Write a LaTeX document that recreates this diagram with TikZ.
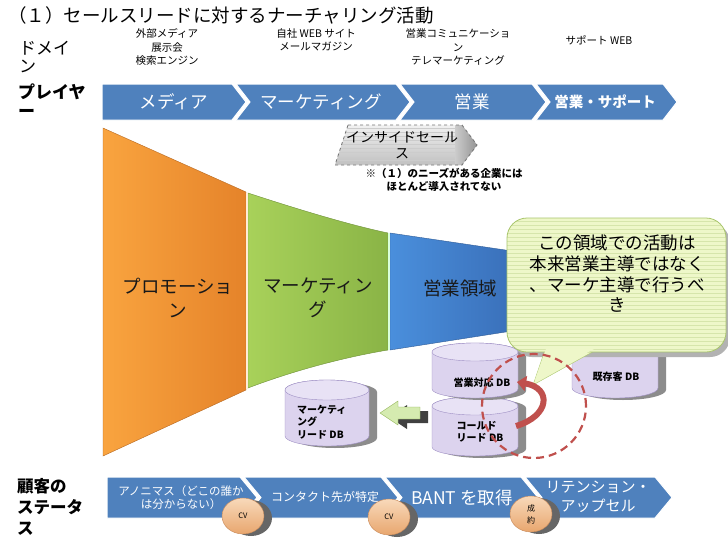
\documentclass[tikz,border=0pt]{standalone}
\usepackage{fontspec}
\setmainfont{Noto Sans CJK JP}
\usetikzlibrary{arrows.meta,shapes.geometric}
\definecolor{chev}{HTML}{4F81BD}
\definecolor{orgL}{HTML}{F9A43F}
\definecolor{orgR}{HTML}{E5832A}
\definecolor{grnL}{HTML}{A8D15A}
\definecolor{grnR}{HTML}{8AB446}
\definecolor{bluL}{HTML}{4A8FDC}
\definecolor{bluR}{HTML}{3A70BA}
\definecolor{callfill}{HTML}{EEF7C9}
\definecolor{callline}{HTML}{D6E5AB}
\definecolor{callborder}{HTML}{A9C66C}
\definecolor{dbbody}{HTML}{DCD3EE}
\definecolor{dbtop}{HTML}{E8E2F5}
\definecolor{dbline}{HTML}{9E8FC4}
\definecolor{dbshadow}{HTML}{8C8C8C}
\definecolor{redarr}{HTML}{C0504D}
\definecolor{cvtop}{HTML}{F8D9BA}
\definecolor{cvbot}{HTML}{E8A66E}
\definecolor{cvline}{HTML}{C88A5A}
\definecolor{arrgreen}{HTML}{D5EBB0}
\definecolor{arrgreenb}{HTML}{8DB050}
\newcommand\fs[2]{\fontsize{#1}{#2}\selectfont}
\newcommand\dbcyl[5]{% cx rx ytop ybot ry
  \fill[dbshadow] (#1-#2+8,#3+#5+2) -- (#1-#2+8,#4-#5+2)
     arc[start angle=180,end angle=360,x radius=#2pt,y radius=#5pt]
     -- (#1+#2+8,#3+#5+2)
     arc[start angle=0,end angle=180,x radius=#2pt,y radius=#5pt] -- cycle;
  \draw[dbline,fill=dbbody] (#1-#2,#3+#5) -- (#1-#2,#4-#5)
     arc[start angle=180,end angle=360,x radius=#2pt,y radius=#5pt]
     -- (#1+#2,#3+#5)
     arc[start angle=0,end angle=180,x radius=#2pt,y radius=#5pt] -- cycle;
  \draw[dbline,fill=dbtop] (#1,#3+#5) ellipse[x radius=#2pt,y radius=#5pt];
}
\tikzset{
  txt/.style={inner sep=0pt,align=center},
  chevron/.style={fill=chev,draw=white,line width=1pt},
  cvbubble/.style={ellipse,draw=cvline,top color=cvtop,bottom color=cvbot,
     minimum width=42pt,minimum height=36pt,inner sep=0pt,align=center,font=\fs{7.5}{9}},
}
\begin{document}
\begin{tikzpicture}[x=1pt,y=-1pt]
\useasboundingbox[fill=white] (0,0) rectangle (728,546);

% title and left labels
\node[txt,anchor=west,font=\fs{18.5}{22}] (title) at (8,15) {（１）セールスリードに対するナーチャリング活動};
\node[txt,anchor=north west,align=left,font=\fs{17}{18}] (domain) at (19,41) {ドメイ\\ン};
\node[txt,anchor=north west,align=left,font=\fs{17}{19}\bfseries] (player) at (18,84) {プレイヤ\\ー};
\node[txt,anchor=north west,align=left,font=\fs{16.5}{21}\bfseries] (status) at (17,478) {顧客の\\ステータ\\ス};

% domain labels
\node[txt,font=\fs{10.5}{13.5}] (dom1) at (167,47) {外部メディア\\展示会\\検索エンジン};
\node[txt,font=\fs{10.5}{13.5}] (dom2) at (316,40) {自社 WEB サイト\\メールマガジン};
\node[txt,font=\fs{10.5}{13.5}] (dom3) at (458,47) {営業コミュニケーショ\\ン\\テレマーケティング};
\node[txt,font=\fs{10.5}{13.5}] (dom4) at (599,40) {サポート WEB};

% top chevrons
\path[chevron] (102,84) -- (232,84) -- (246,102) -- (232,120) -- (102,120) -- cycle;
\path[chevron] (236,84) -- (396,84) -- (410,102) -- (396,120) -- (236,120) -- (250,102) -- cycle;
\path[chevron] (400,84) -- (532,84) -- (546,102) -- (532,120) -- (400,120) -- (414,102) -- cycle;
\path[chevron] (536,84) -- (663,84) -- (677,102) -- (663,120) -- (536,120) -- (550,102) -- cycle;
\node[txt,text=white,font=\fs{17.5}{20}] (c1t) at (174,102) {メディア};
\node[txt,text=white,font=\fs{17.5}{20}] (c2t) at (321,102) {マーケティング};
\node[txt,text=white,font=\fs{17.5}{20}] (c3t) at (472,102) {営業};
\node[txt,text=white,font=\fs{14.5}{17}\bfseries] (c4t) at (605,102) {営業・サポート};

% funnel
\shade[left color=orgL,right color=orgR,draw=orgR!80!black,line width=0.4pt]
  (103,128) -- (246,192) -- (246,390) -- (103,456) -- cycle;
\shade[left color=grnL,right color=grnR,draw=grnR!80!black,line width=0.4pt]
  (248,193) .. controls (300,210) and (350,225) .. (388,233) -- (388,350)
  .. controls (340,358) and (290,372) .. (248,388) -- cycle;
\shade[left color=bluL,right color=bluR,draw=bluR!80!black,line width=0.4pt]
  (390,233) -- (512,251) -- (512,331) -- (390,350) -- cycle;
\draw[white!85!orange,line width=1.2pt] (247,193) -- (247,389);
\draw[white!85!green,line width=1.2pt] (389,233) -- (389,350);
\node[txt,font=\fs{18.5}{24},text=black!90] (f1t) at (178,298) {プロモーショ\\ン};
\node[txt,font=\fs{18.5}{24},text=black!90] (f2t) at (318,298) {マーケティン\\グ};
\node[txt,font=\fs{18.5}{24},text=black!90] (f3t) at (460,288) {営業領域};

% inside sales
\begin{scope}
  \clip (348,125) -- (462,125) -- (477,145) -- (462,165) -- (335,165) -- cycle;
  \shade[top color=white!95!black,bottom color=black!25] (330,124) rectangle (480,166);
  \foreach \yy in {128,132,...,164} \draw[black!20,line width=0.8pt] (330,\yy) -- (480,\yy);
  \shade[left color=black!20,right color=black!45] (455,124) rectangle (480,166);
\end{scope}
\draw[black!55,dashed,line width=0.8pt] (348,125) -- (462,125) -- (477,145) -- (462,165) -- (335,165) -- cycle;
\node[txt,font=\fs{14}{16}] (is) at (402,145) {インサイドセール\\ス};
\node[txt,font=\fs{10.5}{12.5}\bfseries] (note) at (444,180) {※（１）のニーズがある企業には\\ほとんど導入されてない};

% databases
\dbcyl{615}{43}{335}{398}{10}
\node[txt,font=\fs{10}{12}\bfseries] (db4) at (616,377) {既存客 DB};
\dbcyl{327}{42}{380}{446}{10}
\node[txt,anchor=north west,align=left,font=\fs{10}{12.5}\bfseries] (db3) at (297,405) {マーケティ\\ング\\リード DB};
\dbcyl{475}{43}{397}{456}{9}
\node[txt,align=left,font=\fs{10}{12}\bfseries] (db2) at (480,432) {コールド\\リード DB};
\dbcyl{475}{43}{343}{398}{9}
\node[txt,font=\fs{10}{12}\bfseries] (db1) at (482,383) {営業対応 DB};

% green block arrow (cold lead -> marketing lead)
\fill[black!75] (389,417) -- (407,405) -- (407,411) -- (428,411) -- (428,423) -- (407,423) -- (407,429) -- cycle;
\draw[arrgreenb,fill=arrgreen] (380,413) -- (398,401) -- (398,407) -- (420,407) -- (420,419) -- (398,419) -- (398,425) -- cycle;

% callout
\fill[black!30] (512,223) [rounded corners=20pt] rectangle (730,357);
\draw[callborder,fill=callfill] (545,350) -- (533,385) -- (596,350);
\begin{scope}
  \clip[rounded corners=20pt] (507,218) rectangle (726,352);
  \fill[callfill] (507,218) rectangle (726,352);
  \foreach \yy in {221,225,...,352} \draw[callline,line width=0.7pt] (507,\yy) -- (726,\yy);
\end{scope}
\draw[callborder,line width=0.8pt,rounded corners=20pt] (507,218) rectangle (726,352);
\fill[callfill] (546,349) -- (535,380) -- (594,349) -- cycle;
\node[txt,font=\fs{17.5}{20.7}] (co) at (617,274) {この領域での活動は\\本来営業主導ではなく\\、マーケ主導で行うべ\\き};

% red curved arrow and dashed circle
\coordinate (coldR) at (516,426);
\coordinate (eigyoR) at (517,382);
\draw[redarr,line width=6pt,-{Triangle[length=9pt,width=15pt]}]
  (coldR) .. controls (550,416) and (552,388) .. (eigyoR);
\coordinate (circC) at (534,406);
\draw[redarr,dashed,line width=2.2pt,dash pattern=on 8pt off 5pt] (circC) circle[radius=52pt];

% bottom chevrons
\path[chevron] (107,477) -- (240,477) -- (257,497.5) -- (240,518) -- (107,518) -- cycle;
\path[chevron] (244,477) -- (381,477) -- (398,497.5) -- (381,518) -- (244,518) -- (261,497.5) -- cycle;
\path[chevron] (385,477) -- (521,477) -- (538,497.5) -- (521,518) -- (385,518) -- (402,497.5) -- cycle;
\path[chevron] (525,477) -- (655,477) -- (672,497.5) -- (655,518) -- (525,518) -- (542,497.5) -- cycle;
\node[txt,text=white,font=\fs{11.5}{13}] (b1t) at (181,498) {アノニマス（どこの誰か\\は分からない）};
\node[txt,text=white,font=\fs{12}{14}] (b2t) at (325,497) {コンタクト先が特定};
\node[txt,text=white,font=\fs{17.5}{20}] (b3t) at (462,498) {BANT を取得};
\node[txt,text=white,font=\fs{15}{19.5}] (b4t) at (598,497) {リテンション・\\アップセル};

% CV bubbles
\fill[black!60] (251,518) ellipse[x radius=21pt,y radius=18pt];
\node[cvbubble] (cv1) at (243,516) {CV};
\fill[black!60] (397,519) ellipse[x radius=21pt,y radius=18pt];
\node[cvbubble] (cv2) at (389,517) {CV};
\fill[black!60] (539,516) ellipse[x radius=21pt,y radius=18pt];
\node[cvbubble,font=\fs{8}{12}] (cv3) at (531,514) {成\\約};
\end{tikzpicture}
\end{document}
